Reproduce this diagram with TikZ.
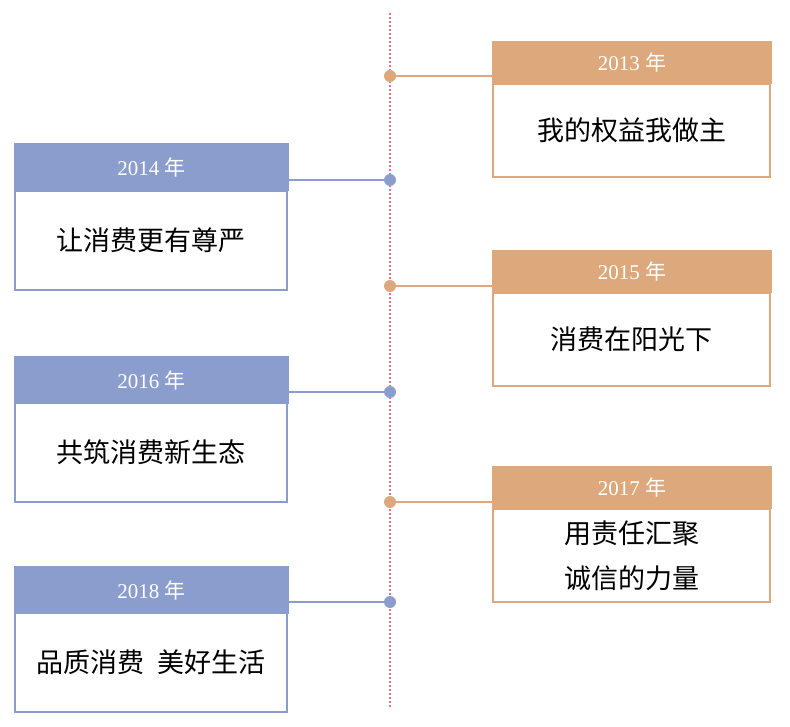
\documentclass[tikz,border=0pt]{standalone}
\usepackage{fontspec}
\setmainfont{Liberation Serif}
\newfontfamily\cjk{Noto Sans CJK SC}
\begin{document}
\begin{tikzpicture}[x=1pt,y=-1pt]
\definecolor{orng}{HTML}{DDA97C}
\definecolor{blu}{HTML}{8A9DCD}
\definecolor{pnk}{HTML}{EE7088}
\tikzset{
  hdr/.style={fill=#1, draw=none, inner sep=0pt, outer sep=0pt, anchor=north west, text=white,
    font=\fontsize{21pt}{24pt}\selectfont},
  bdy/.style={draw=#1, line width=2pt, inner sep=0pt, outer sep=0pt, anchor=north west, align=center,
    font=\cjk\fontsize{27pt}{45pt}\selectfont},
  rdot/.style={circle, fill=#1, draw=none, minimum size=12pt, inner sep=0pt},
  conn/.style={draw=#1, line width=2pt},
  axis/.style={draw=pnk, line width=2pt, dash pattern=on 2pt off 2pt}
}
\useasboundingbox (0,0) rectangle (790,727);
\coordinate (top) at (390,13);
\coordinate (bot) at (390,707);
\draw[axis] (top) -- (bot);

% 2013 (right)
\node[bdy=orng, minimum width=277pt, minimum height=93pt] (b13) at (493,84) {我的权益我做主};
\node[hdr=orng, minimum width=280pt, minimum height=43pt] (h13) at (492,41) {2013 {\cjk 年}};
\node[rdot=orng] (d13) at (390,76) {};
\draw[conn=orng] (d13) -- (h13.west |- d13);

% 2014 (left)
\node[bdy=blu, minimum width=272pt, minimum height=99pt] (b14) at (15,191) {让消费更有尊严};
\node[hdr=blu, minimum width=275pt, minimum height=48pt] (h14) at (14,143) {2014 {\cjk 年}};
\node[rdot=blu] (d14) at (390,180) {};
\draw[conn=blu] (d14) -- (h14.east |- d14);

% 2015 (right)
\node[bdy=orng, minimum width=277pt, minimum height=93pt] (b15) at (493,293) {消费在阳光下};
\node[hdr=orng, minimum width=280pt, minimum height=43pt] (h15) at (492,250) {2015 {\cjk 年}};
\node[rdot=orng] (d15) at (390,286) {};
\draw[conn=orng] (d15) -- (h15.west |- d15);

% 2016 (left)
\node[bdy=blu, minimum width=272pt, minimum height=99pt] (b16) at (15,403) {共筑消费新生态};
\node[hdr=blu, minimum width=275pt, minimum height=48pt] (h16) at (14,356) {2016 {\cjk 年}};
\node[rdot=blu] (d16) at (390,392) {};
\draw[conn=blu] (d16) -- (h16.east |- d16);

% 2017 (right)
\node[bdy=orng, minimum width=277pt, minimum height=93pt] (b17) at (493,509) {用责任汇聚\\诚信的力量};
\node[hdr=orng, minimum width=280pt, minimum height=43pt] (h17) at (492,466) {2017 {\cjk 年}};
\node[rdot=orng] (d17) at (390,502) {};
\draw[conn=orng] (d17) -- (h17.west |- d17);

% 2018 (left)
\node[bdy=blu, minimum width=272pt, minimum height=99pt] (b18) at (15,613) {品质消费\ \ 美好生活};
\node[hdr=blu, minimum width=275pt, minimum height=48pt] (h18) at (14,566) {2018 {\cjk 年}};
\node[rdot=blu] (d18) at (390,602) {};
\draw[conn=blu] (d18) -- (h18.east |- d18);
\end{tikzpicture}
\end{document}
